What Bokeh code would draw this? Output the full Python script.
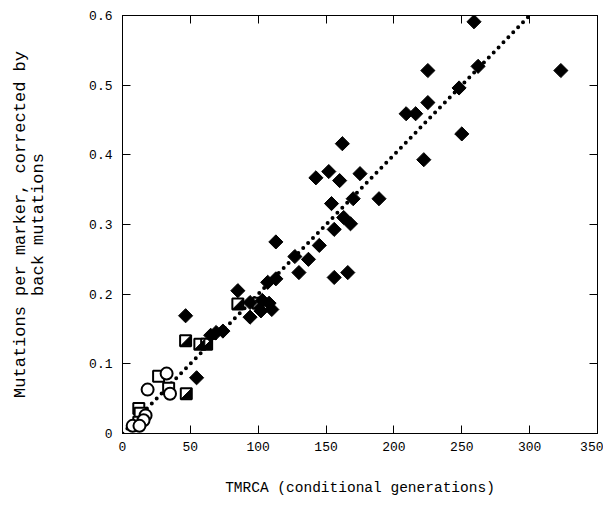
import numpy as np
from bokeh.plotting import figure
from bokeh.models import LinearAxis, Range1d, FixedTicker
from bokeh.embed import file_html
from bokeh.resources import INLINE

# ---- data ----
diamond_x = [323, 259, 262, 225, 248, 225, 209, 216, 250, 222,
             162, 152, 142.5, 160, 175, 154, 170, 189, 163, 168, 156, 145,
             113, 127, 137, 130, 156, 166, 107, 113,
             85, 94, 102, 108, 110, 94, 103, 46.5, 65, 69, 74, 54.6]
diamond_y = [0.521, 0.591, 0.527, 0.521, 0.496, 0.475, 0.459, 0.459, 0.430, 0.393,
             0.416, 0.376, 0.367, 0.363, 0.373, 0.330, 0.337, 0.337, 0.310, 0.301, 0.293, 0.270,
             0.275, 0.254, 0.250, 0.231, 0.224, 0.231, 0.217, 0.222,
             0.205, 0.188, 0.176, 0.187, 0.178, 0.167, 0.191, 0.169, 0.141, 0.145, 0.147, 0.080]

half_x = [47, 46.5, 57, 62, 85, 100]
half_y = [0.057, 0.133, 0.128, 0.128, 0.186, 0.187]

osq_x = [26.6, 34, 12, 13, 12]
osq_y = [0.082, 0.065, 0.036, 0.029, 0.016]

circ_x = [32.5, 18.5, 35, 17, 15.5, 7.5, 12.5]
circ_y = [0.086, 0.063, 0.057, 0.026, 0.019, 0.011, 0.011]

fit_x = [0, 300]
fit_y = [0, 0.6]

x_ticks = [0, 50, 100, 150, 200, 250, 300, 350]
y_ticks = [0, 0.1, 0.2, 0.3, 0.4, 0.5, 0.6]
y_tick_labels = ["0", "0.1", "0.2", "0.3", "0.4", "0.5", "0.6"]

FONT = "Liberation Mono"

p = figure(width=603, height=500, output_backend="svg", toolbar_location=None,
           x_range=Range1d(0, 350), y_range=Range1d(0, 0.6),
           min_border_left=122, min_border_right=6, min_border_top=15, min_border_bottom=67)
p.grid.visible = False
p.outline_line_color = "black"
p.outline_line_width = 1
p.background_fill_color = "white"
p.border_fill_color = "white"

p.xaxis.ticker = FixedTicker(ticks=x_ticks)
p.yaxis.ticker = FixedTicker(ticks=y_ticks)
p.yaxis.major_label_overrides = {t: l for t, l in zip(y_ticks, y_tick_labels)}
for ax in (p.xaxis[0], p.yaxis[0]):
    ax.major_tick_in = 8
    ax.major_tick_out = 0
    ax.minor_tick_line_color = None
    ax.axis_line_color = "black"
    ax.major_tick_line_color = "black"
    ax.major_label_text_font = FONT
    ax.major_label_text_font_size = "13px"
    ax.major_label_text_color = "black"
    ax.axis_label_text_font = FONT
    ax.axis_label_text_font_style = "normal"
    ax.axis_label_text_color = "black"
p.xaxis.axis_label = "TMRCA (conditional generations)"
p.xaxis.axis_label_text_font_size = "14.5px"
p.xaxis.major_label_standoff = 8
p.xaxis.axis_label_standoff = 26
p.yaxis.axis_label = "Mutations per marker, corrected by\nback mutations"
p.yaxis.axis_label_text_font_size = "17px"
p.yaxis.axis_label_text_line_height = 0.95
p.yaxis.major_label_standoff = 10
p.yaxis.axis_label_standoff = 38

top = LinearAxis(ticker=FixedTicker(ticks=x_ticks), major_tick_in=8, major_tick_out=0,
                 minor_tick_line_color=None, major_label_overrides={t: "" for t in x_ticks},
                 major_label_standoff=0)
right = LinearAxis(ticker=FixedTicker(ticks=y_ticks), major_tick_in=8, major_tick_out=0,
                   minor_tick_line_color=None, major_label_overrides={t: "" for t in y_ticks},
                   major_label_standoff=0)
p.add_layout(top, "above")
p.add_layout(right, "right")

# fitted line
p.line(fit_x, fit_y, line_color="black", line_width=4, line_dash="0 7", line_cap="round")

# open squares and circles
p.scatter(osq_x, osq_y, marker="square", size=11, fill_color="white", line_color="black", line_width=2)
p.scatter(circ_x, circ_y, marker="circle", size=12, fill_color="white", line_color="black", line_width=2)

# half-filled squares
hx = np.array(half_x, dtype=float)
hy = np.array(half_y, dtype=float)
px_x = 350 / 475.0
px_y = 0.6 / 418.0
h = 5.0
p.scatter(hx, hy, marker="square", size=11, fill_color="white", line_color="black", line_width=2)
tri_xs = [[x - h * px_x, x + h * px_x, x + h * px_x] for x in hx]
tri_ys = [[y - h * px_y, y - h * px_y, y + h * px_y] for y in hy]
p.patches(tri_xs, tri_ys, fill_color="black", line_color="black", line_width=1)

# diamonds
p.scatter(diamond_x, diamond_y, marker="square", angle=np.pi / 4, size=10,
          fill_color="black", line_color="black", line_width=1)

open("out.html", "w").write(file_html(p, INLINE))
